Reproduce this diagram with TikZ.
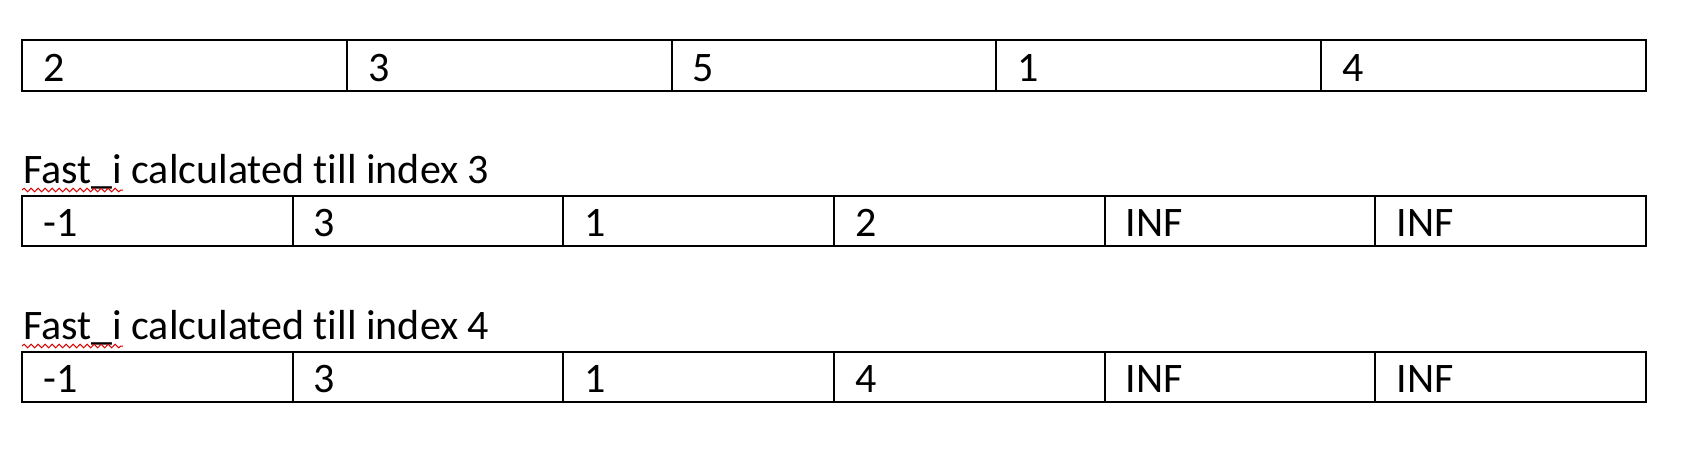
\documentclass[tikz,border=0pt]{standalone}
\usepackage{fontspec}
\setmainfont{Carlito}[Ligatures={NoCommon}]
\usetikzlibrary{decorations.pathmorphing}
\begin{document}
\begin{tikzpicture}[x=1pt,y=-1pt,
  cellbox/.style={draw=black, line width=2pt, rectangle, inner sep=0pt, anchor=north west},
  cellfive/.style={cellbox, minimum width=324.8pt, minimum height=51pt},
  cellsix/.style={cellbox, minimum width=270.67pt, minimum height=50pt},
  celltxt/.style={anchor=base west, inner sep=0pt, font=\fontsize{42}{50}\selectfont, xshift=22pt, yshift=11pt},
  captxt/.style={anchor=base west, inner sep=0pt, font=\fontsize{42}{50}\selectfont},
  squiggle/.style={draw=red!85!black, line width=1pt, decorate, decoration={snake, amplitude=1.8pt, segment length=7pt}}]
\useasboundingbox[fill=white] (0,0) rectangle (1694,448);
% row 1
\foreach \v [count=\i from 0] in {2,3,5,1,4}{
  \node[cellfive] (a\i) at (21+\i*324.8,39) {};
  \node[celltxt] (ta\i) at (a\i.south west) {\v};
}
% label 1
\node[captxt] (cap1) at (23,183) {Fast\_i calculated till index 3};
\coordinate (s1a) at (22,190);
\coordinate (s1b) at (123,190);
\draw[squiggle] (s1a) -- (s1b);
% row 2
\foreach \v [count=\i from 0] in {-1,3,1,2,INF,INF}{
  \node[cellsix] (b\i) at (21+\i*270.67,195) {};
  \node[celltxt] (tb\i) at (b\i.south west) {\v};
}
% label 2
\node[captxt] (cap2) at (23,339) {Fast\_i calculated till index 4};
\coordinate (s2a) at (22,346);
\coordinate (s2b) at (123,346);
\draw[squiggle] (s2a) -- (s2b);
% row 3
\foreach \v [count=\i from 0] in {-1,3,1,4,INF,INF}{
  \node[cellsix] (c\i) at (21+\i*270.67,351) {};
  \node[celltxt] (tc\i) at (c\i.south west) {\v};
}
\end{tikzpicture}
\end{document}
